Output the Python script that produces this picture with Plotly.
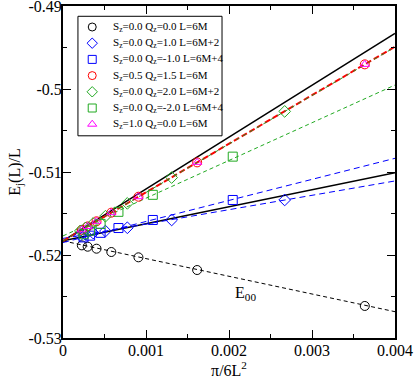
import numpy as np
import plotly.graph_objects as go

# x = pi/6L^2 for the three lattice families
x_6m = [0.003636, 0.001616, 0.000909, 0.000582, 0.000404, 0.000297, 0.000227]
x_6m2 = [0.002671, 0.001309, 0.000775, 0.000511, 0.000363, 0.000270, 0.000209]
x_6m4 = [0.002045, 0.001082, 0.000668, 0.000453, 0.000327, 0.000247]

# E_j(L)/L
e00 = [-0.52614, -0.52181, -0.52028, -0.51964, -0.51924, -0.51900, -0.51884]
blue_diam = [-0.51337, -0.51578, -0.51672, -0.51712, -0.51735, -0.51752, -0.51762]
blue_sq = [-0.51337, -0.51578, -0.51675, -0.51733, -0.51767, -0.51788]
red_circ = [-0.49703, -0.50884, -0.51298, -0.51490, -0.51594, -0.51656, -0.51697]
green_diam = [-0.50270, -0.51067, -0.51378, -0.51533, -0.51620, -0.51674, -0.51709]
green_sq = [-0.50815, -0.51275, -0.51480, -0.51625, -0.51705, -0.51750]
mag_tri = [-0.49703, -0.50884, -0.51298, -0.51490, -0.51594, -0.51656, -0.51697]

labels = ["S<sub>z</sub>=0.0 Q<sub>z</sub>=0.0 L=6M",
          "S<sub>z</sub>=0.0 Q<sub>z</sub>=1.0 L=6M+2",
          "S<sub>z</sub>=0.0 Q<sub>z</sub>=-1.0 L=6M+4",
          "S<sub>z</sub>=0.5 Q<sub>z</sub>=1.5 L=6M",
          "S<sub>z</sub>=0.0 Q<sub>z</sub>=2.0 L=6M+2",
          "S<sub>z</sub>=0.0 Q<sub>z</sub>=-2.0 L=6M+4",
          "S<sub>z</sub>=1.0 Q<sub>z</sub>=0.0 L=6M"]

# straight lines: (intercept, value at x=0.004)
line_x = [0.0, 0.004]
fit_lines = [
    (-0.5183, -0.52683, "black", "4px,3px", 1),    # E00
    (-0.5183, -0.49329, "black", "solid", 1.5),    # upper CFT
    (-0.5183, -0.51008, "black", "solid", 1.5),    # lower CFT
    (-0.5180, -0.51108, "blue", "6px,4px", 1),     # blue diamonds
    (-0.5185, -0.50835, "blue", "6px,4px", 1),     # blue squares
    (-0.5177, -0.49952, "#22aa22", "4px,3px", 1),  # green squares
    (-0.5183, -0.49490, "red", "6px,3px", 2),      # red circles
    (-0.5183, -0.49495, "#2e8b22", "4px,4px", 1),  # green diamonds
]

fig = go.Figure()
for y0, y1, c, d, w in fit_lines:
    fig.add_trace(go.Scatter(x=line_x, y=[y0, y1], mode="lines",
                             line=dict(color=c, dash=d, width=w),
                             showlegend=False, hoverinfo="skip"))

green = "#22aa22"
series = [
    (x_6m, e00, "circle-open", "black", 9),
    (x_6m2, blue_diam, "diamond-open", "blue", 9),
    (x_6m4, blue_sq, "square-open", "blue", 9),
    (x_6m, red_circ, "circle-open", "red", 9),
    (x_6m2, green_diam, "diamond-open", green, 9),
    (x_6m4, green_sq, "square-open", green, 9),
    (x_6m, mag_tri, "triangle-up-open", "magenta", 8),
]
for (xs, ys, sym, col, sz), lab in zip(series, labels):
    fig.add_trace(go.Scatter(x=xs, y=ys, mode="markers", name=lab, showlegend=False,
                             marker=dict(symbol=sym, size=sz, color=col,
                                         line=dict(color=col, width=1))))

# hand-made legend (xmgrace style, tight rows)
leg_left, leg_right, leg_top, leg_bot = 0.045, 0.479, 0.969, 0.609
row_y = [1 - (27 + 16.2 * i - 6) / 332 for i in range(len(labels))]
fig.add_shape(type="rect", xref="paper", yref="paper", x0=leg_left, x1=leg_right,
              y0=leg_bot, y1=leg_top, line=dict(color="black", width=1),
              fillcolor="rgba(0,0,0,0)", layer="above")
for (xs, ys, sym, col, sz), lab, ry in zip(series, labels, row_y):
    fig.add_trace(go.Scatter(x=[0.088], y=[ry], xaxis="x2", yaxis="y2", mode="markers",
                             showlegend=False, hoverinfo="skip",
                             marker=dict(symbol=sym, size=8, color=col,
                                         line=dict(color=col, width=1))))
    fig.add_annotation(x=0.1437, y=ry, xref="paper", yref="paper", text=lab,
                       showarrow=False, xanchor="left", yanchor="middle",
                       font=dict(size=11, family="Liberation Serif", color="black"))

fig.add_annotation(x=0.0022, y=-0.5246, text="E<sub>00</sub>", showarrow=False,
                   font=dict(size=16, color="black", family="Liberation Serif"))

xt = [0, 0.001, 0.002, 0.003, 0.004]
xt_text = ["0", "0.001", "0.002", "0.003", "0.004"]
yt = [-0.53, -0.52, -0.51, -0.5, -0.49]
yt_text = ["-0.53", "-0.52", "-0.51", "-0.5", "-0.49"]

axis_common = dict(showgrid=False, zeroline=False, showline=True, linecolor="black",
                   linewidth=2, mirror="ticks", ticks="inside", ticklen=8,
                   tickcolor="black", tickwidth=1, automargin=False,
                   ticklabeloverflow="allow",
                   minor=dict(ticks="inside", ticklen=4, tickcolor="black", dtick=0.0005),
                   tickfont=dict(size=16, family="Liberation Serif", color="black"))

fig.update_xaxes(range=[0, 0.004], tickvals=xt, ticktext=xt_text, ticklabelstandoff=-3,
                 title=dict(text="π/6L<sup>2</sup>", standoff=10,
                            font=dict(size=16, family="Liberation Serif", color="black")),
                 **axis_common)
axis_y = dict(axis_common)
axis_y["minor"] = dict(ticks="inside", ticklen=4, tickcolor="black", dtick=0.005)
fig.update_yaxes(range=[-0.53, -0.49], tickvals=yt, ticktext=yt_text, ticklabelstandoff=-4,
                 title=dict(text="E<sub>j</sub>(L)/L", standoff=4,
                            font=dict(size=16, family="Liberation Serif", color="black")),
                 **axis_y)

fig.update_layout(width=415, height=379, plot_bgcolor="white", paper_bgcolor="white",
                  margin=dict(l=63, r=20, t=6, b=41), showlegend=False,
                  xaxis2=dict(overlaying="x", range=[0, 1], visible=False),
                  yaxis2=dict(overlaying="y", range=[0, 1], visible=False))

fig.write_html("out.html", config={"displayModeBar": False},
               post_script="document.body.style.margin='0px';")
